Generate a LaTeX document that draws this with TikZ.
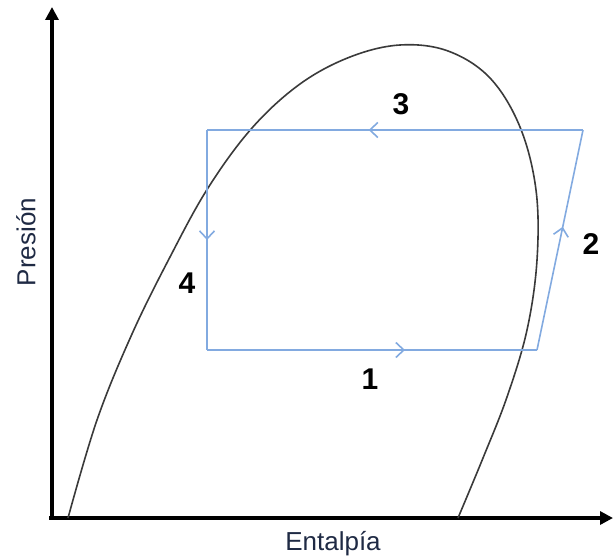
\documentclass[tikz,border=0pt]{standalone}
\usepackage{fontspec}
\setmainfont{Liberation Sans}
\usetikzlibrary{arrows.meta,decorations.markings}
\definecolor{cycleblue}{HTML}{82AAE0}
\definecolor{domegray}{HTML}{3A3A3A}
\definecolor{labelnavy}{HTML}{1F2A44}
\tikzset{
  axis/.style={line width=3.2pt,-{Triangle[length=13pt,width=13pt]}},
  dome/.style={domegray,line width=1.6pt},
  cycle/.style={cycleblue,line width=1.6pt},
  midarrow/.style={postaction={decorate},decoration={markings,
    mark=at position #1 with {\arrow{Straight Barb[length=8pt,width=15pt,line width=1.6pt]}}}},
  statelabel/.style={font=\fontsize{30}{36}\selectfont\bfseries,text=black},
  axislabel/.style={font=\fontsize{26}{31}\selectfont,text=labelnavy}
}
\begin{document}
\begin{tikzpicture}[x=1pt,y=-1pt]
\useasboundingbox (0,0) rectangle (613,559);
% axes
\coordinate (origin) at (52,518);
\coordinate (ytip) at (52,7);
\coordinate (xtip) at (613,518);
\draw[axis] (origin) -- (ytip);
\draw[axis] (49,518) -- (xtip);
% saturation dome
\draw[dome] plot[smooth,tension=0.6] coordinates {(68,518) (97,420) (132,334) (170,257) (208,188) (252,128) (300,84) (350,57) (400,45) (448,51) (490,78) (520,127) (536,190) (537,260) (527,330) (507,397) (483,458) (458,518)};
% refrigeration cycle corners
\coordinate (c1) at (207,350);
\coordinate (c2) at (537,350);
\coordinate (c3) at (583,130);
\coordinate (c4) at (207,130);
\draw[cycle,midarrow=0.6] (c1) -- (c2);
\draw[cycle,midarrow=0.56] (c2) -- (c3);
\draw[cycle,midarrow=0.57] (c3) -- (c4);
\draw[cycle,midarrow=0.5] (c4) -- (c1);
% state labels
\node[statelabel] (n1) at (370,379) {1};
\node[statelabel] (n2) at (591,244) {2};
\node[statelabel] (n3) at (401,104) {3};
\node[statelabel] (n4) at (187,283) {4};
% axis labels
\node[axislabel] (xlabel) at (333,544) {Entalpía};
\node[axislabel,rotate=90] (ylabel) at (26,242) {Presión};
\end{tikzpicture}
\end{document}
